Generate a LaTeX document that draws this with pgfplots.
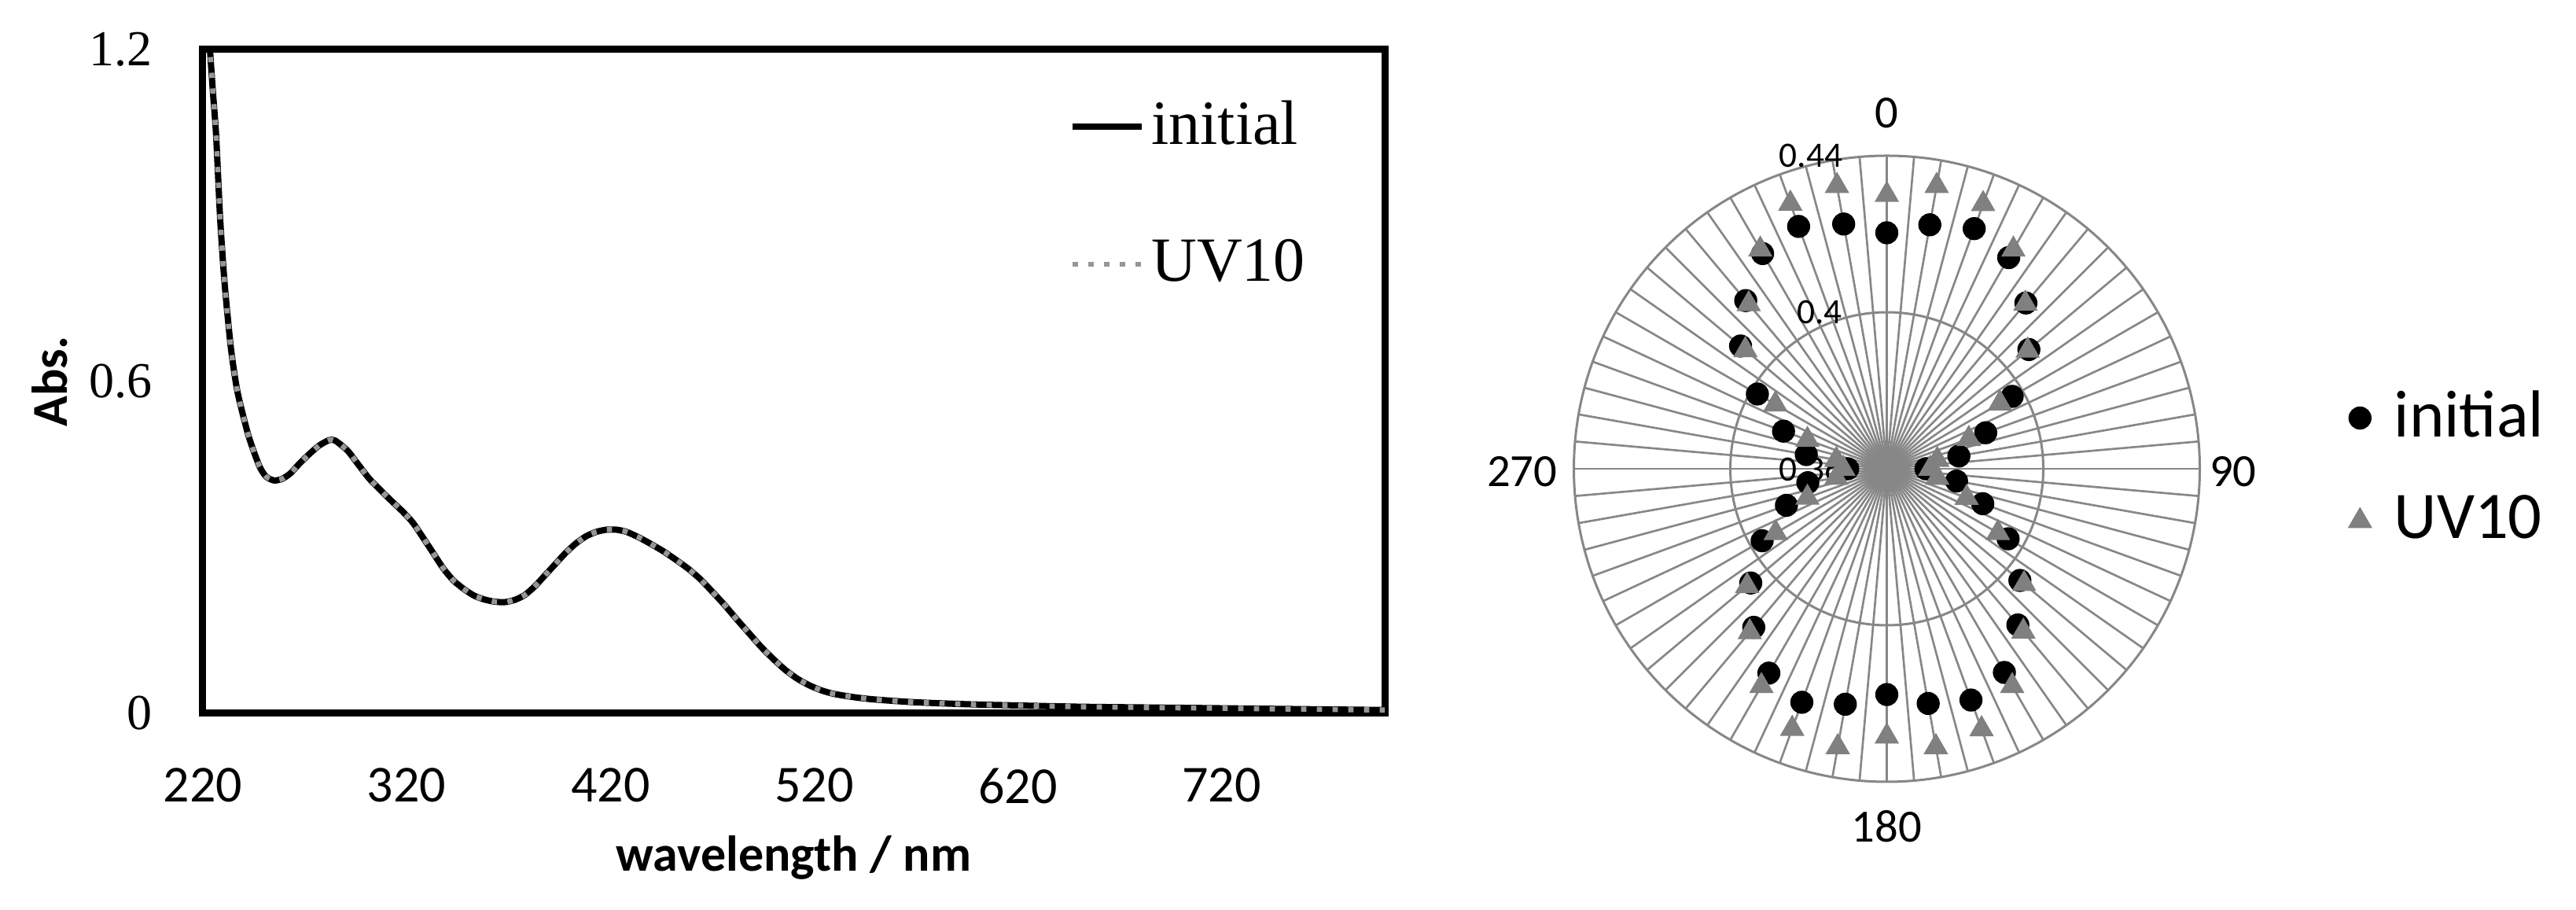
\documentclass[border=0pt]{standalone}
\usepackage{fontspec}
\setmainfont{Carlito}
\newfontfamily\tnr{Liberation Serif}
\usepackage{pgfplots}
\usepackage{pgfplotstable}
\pgfplotsset{compat=1.18}
\definecolor{spk}{RGB}{135,135,135}
\definecolor{tri}{RGB}{128,128,128}
\definecolor{dotg}{RGB}{150,150,150}

\pgfplotstableread{
nm abs
222 1.300
223.5 1.200
225 1.120
226.5 1.045
228.5 0.893
230.7 0.776
233.8 0.659
237 0.581
242.3 0.503
247.6 0.448
251 0.428
255 0.421
259 0.424
263 0.434
267 0.450
272 0.468
277 0.484
282 0.494
285 0.493
291 0.475
295 0.456
301.5 0.425
306 0.408
312 0.386
318 0.365
323 0.345
328 0.318
333 0.290
338 0.262
343 0.240
348 0.225
353 0.213
358 0.206
363 0.202
368 0.201
373 0.205
378 0.214
383 0.230
388 0.250
393 0.270
398 0.290
403 0.307
408 0.320
413 0.328
418 0.332
423 0.332
428 0.328
434 0.318
440 0.306
446 0.293
452 0.278
458 0.262
464 0.243
470 0.220
476 0.196
482 0.170
488 0.145
494 0.120
500 0.098
506 0.078
512 0.062
518 0.050
524 0.041
530 0.035
540 0.029
550 0.025
570 0.020
600 0.016
650 0.012
700 0.010
750 0.008
800 0.006
}\specdata

\pgfplotstableread{
a init uv
0 0.4203 0.4300
10 0.4233 0.4334
20 0.4253 0.4320
30 0.4223 0.4247
40 0.4153 0.4151
50 0.4074 0.4070
60 0.3970 0.3934
70 0.3869 0.3823
80 0.3787 0.3731
90 0.3700 0.3711
100 0.3781 0.3731
110 0.3861 0.3817
120 0.3958 0.3928
130 0.4044 0.4058
140 0.4121 0.4143
150 0.4201 0.4241
160 0.4229 0.4308
170 0.4209 0.4322
180 0.4177 0.4284
190 0.4211 0.4322
200 0.4235 0.4307
210 0.4203 0.4241
220 0.4129 0.4145
230 0.4054 0.4066
240 0.3968 0.3928
250 0.3873 0.3816
260 0.3805 0.3731
270 0.3700 0.3711
280 0.3809 0.3731
290 0.3881 0.3816
300 0.3982 0.3929
310 0.4088 0.4072
320 0.4161 0.4149
330 0.4235 0.4247
340 0.4259 0.4321
350 0.4235 0.4334
}\polardata

\begin{document}
\begin{tikzpicture}
\path[use as bounding box] (0,0) rectangle (491.4pt,173.55pt);

% ---------- left: absorption spectrum ----------
\begin{axis}[
  at={(38.7pt,37.5pt)}, anchor=south west,
  scale only axis, width=225.45pt, height=126.6pt,
  xmin=220, xmax=800, ymin=0, ymax=1.2,
  xtick={220,320,420,520,620,720},
  ytick={0,0.6,1.2},
  /pgf/number format/assume math mode=true,
  tick style={draw=none},
  axis line style={line width=1.35pt, black},
  xticklabel style={font=\fontsize{9.9}{10}\selectfont, yshift=-6.9pt},
  yticklabel style={font=\tnr\fontsize{9.6}{10}\selectfont, xshift=-6.2pt},
  xlabel={wavelength / nm},
  ylabel={Abs.},
  xlabel style={font=\bfseries\fontsize{9.6}{11}\selectfont, at={(axis description cs:0.5,-0.2168)}, anchor=center},
  ylabel style={font=\bfseries\fontsize{9.6}{11}\selectfont, at={(axis description cs:-0.1297,0.5)}, anchor=center},
  legend image code/.code={\draw[#1] (0pt,0pt) -- (13.2pt,0pt);},
  legend style={draw=none, fill=none, at={(axis description cs:0.7325,0.781)}, anchor=west,
    font=\tnr\fontsize{12}{14}\selectfont, row sep=12.6pt, inner xsep=0pt, inner ysep=0pt,
    nodes={inner xsep=1.2pt}},
  legend cell align=left,
]
\addplot[black, line width=1.2pt, smooth, tension=0.4] table[x=nm, y=abs] {\specdata};
\addlegendentry{initial}
\addplot[dotg, line width=1pt, dash pattern=on 1pt off 2pt, smooth, tension=0.4] table[x=nm, y=abs] {\specdata};
\addlegendentry{UV10}
\end{axis}

% ---------- right: polar (radar) chart ----------
\begin{axis}[
  at={(359.925pt,84.15pt)}, anchor=center,
  x=746.25pt, y=746.25pt,
  xmin=-0.09, xmax=0.09, ymin=-0.09, ymax=0.09,
  hide axis, clip=false,
  legend image code/.code={\draw[#1] plot coordinates {(0pt,0pt)};},
  legend style={draw=none, fill=none, at={(axis cs:0.1180,0)}, anchor=west,
    font=\fontsize{12.7}{14}\selectfont, row sep=5.6pt, inner xsep=0pt, inner ysep=0pt,
    nodes={inner xsep=4.5pt}},
  legend cell align=left,
]
\pgfplotsinvokeforeach{0,5,...,355}{
  \draw[spk, line width=0.4pt] (axis cs:0,0) -- (axis cs:{0.08*sin(#1)},{0.08*cos(#1)});
}
\draw[spk, line width=0.45pt] (axis cs:0,0) circle[radius=29.85pt];
\draw[spk, line width=0.45pt] (axis cs:0,0) circle[radius=59.7pt];

\node[anchor=east, font=\fontsize{6.8}{8}\selectfont, inner sep=0pt] at (axis cs:-0.0111,0.08) {0.44};
\node[anchor=east, font=\fontsize{6.8}{8}\selectfont, inner sep=0pt] at (axis cs:-0.0111,0.04) {0.4};
\node[anchor=east, font=\fontsize{6.8}{8}\selectfont, inner sep=0pt] at (axis cs:-0.0111,0) {0.36};

\node[font=\fontsize{8.8}{10}\selectfont, inner sep=0pt] at (axis cs:0,0.0909) {0};
\node[font=\fontsize{8.8}{10}\selectfont, inner sep=0pt] at (axis cs:0.0885,-0.0008) {90};
\node[font=\fontsize{8.8}{10}\selectfont, inner sep=0pt] at (axis cs:0,-0.0913) {180};
\node[font=\fontsize{8.8}{10}\selectfont, inner sep=0pt] at (axis cs:-0.0932,-0.0008) {270};

\addplot[only marks, mark=*, mark size=2pt, black, mark options={fill=black, draw=black}]
  table[x expr={(\thisrow{init}-0.36)*sin(\thisrow{a})}, y expr={(\thisrow{init}-0.36)*cos(\thisrow{a})}] {\polardata};
\addlegendentry{initial}
\addplot[only marks, mark=triangle*, mark size=2.3pt, tri, mark options={fill=tri, draw=tri}]
  table[x expr={(\thisrow{uv}-0.36)*sin(\thisrow{a})}, y expr={(\thisrow{uv}-0.36)*cos(\thisrow{a})}] {\polardata};
\addlegendentry{UV10}
\end{axis}
\end{tikzpicture}
\end{document}
